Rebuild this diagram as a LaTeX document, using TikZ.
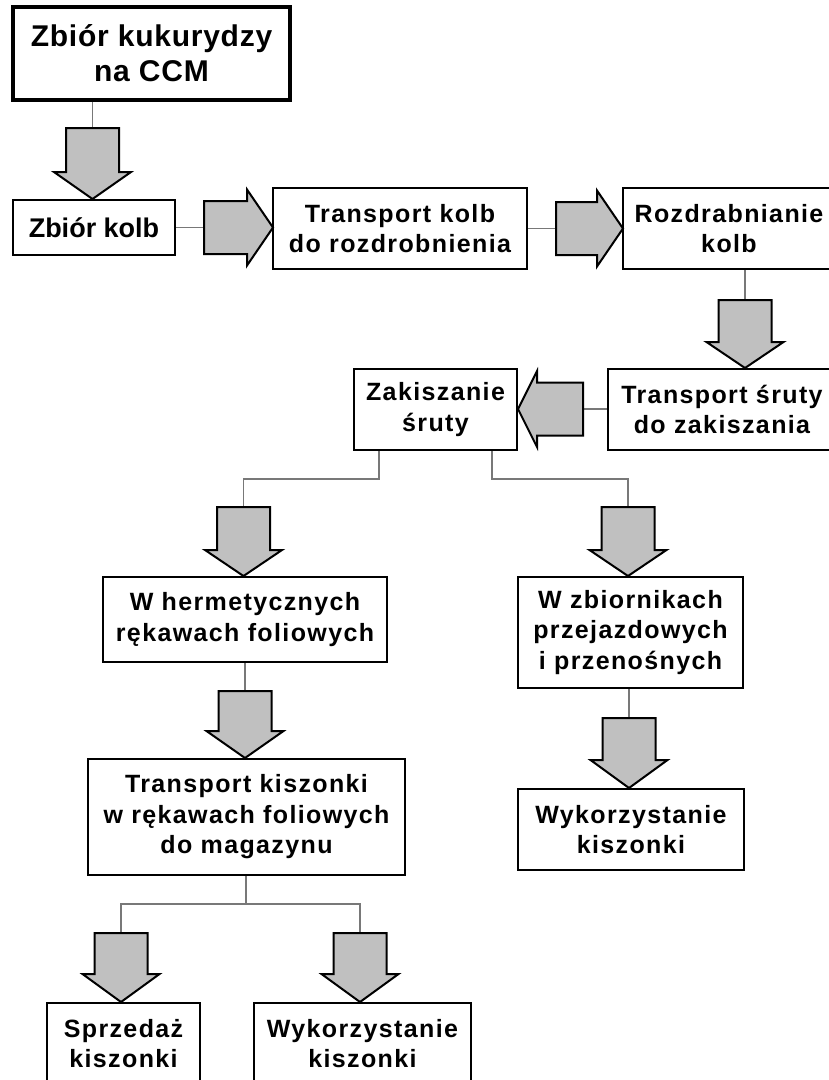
\documentclass[tikz,border=0pt]{standalone}
\usepackage{fontspec}
\newfontfamily\bxf{Liberation Sans}[LetterSpace=5.5]
\newfontfamily\bxtop{Liberation Sans}[LetterSpace=2.5]
\newfontfamily\bxplain{Liberation Sans}
\definecolor{arrowgray}{RGB}{192,192,192}
\definecolor{linkgray}{RGB}{120,120,120}
\newcommand\myarrD[4]{\draw[blockarrow] ({#1-26.5},#2) -- ({#1+26.5},#2) -- ({#1+26.5},#3) -- ({#1+38.5},#3) -- (#1,#4) -- ({#1-38.5},#3) -- ({#1-26.5},#3) -- cycle;}
\newcommand\myarrH[4]{\draw[blockarrow] (#2,{#1-26.5}) -- (#3,{#1-26.5}) -- (#3,{#1-38}) -- (#4,#1) -- (#3,{#1+38}) -- (#3,{#1+26.5}) -- (#2,{#1+26.5}) -- cycle;}
\tikzset{
  box/.style={draw=black, line width=2pt, fill=white, align=center, inner sep=0pt,
    font=\bxf\bfseries\fontsize{25}{30.5}\selectfont},
  bigbox/.style={box, font=\bxplain\bfseries\fontsize{27}{32}\selectfont},
  topbox/.style={box, line width=3.5pt, font=\bxtop\bfseries\fontsize{30}{35}\selectfont},
  link/.style={draw=linkgray, line width=1.5pt},
  blockarrow/.style={draw=black, line width=2pt, fill=arrowgray, line join=miter}
}
\begin{document}
\begin{tikzpicture}[x=1pt,y=-1pt]
\useasboundingbox (0,0) rectangle (829,1080);
\fill[white] (0,0) rectangle (829,1080);
\clip (0,0) rectangle (829,1080);

% boxes
\node[topbox, minimum width=277pt, minimum height=93pt] (b1) at (151.5,53.5) {Zbiór kukurydzy\\na CCM};
\node[bigbox, minimum width=162pt, minimum height=55pt] (b2) at (94,227.5) {Zbiór kolb};
\node[box, minimum width=254pt, minimum height=81pt] (b3) at (400,228.5) {Transport kolb\\do rozdrobnienia};
\node[box, minimum width=212pt, minimum height=81pt] (b4) at (729,228.5) {Rozdrabnianie\\kolb};
\node[box, minimum width=228pt, minimum height=81pt] (b5) at (722,409.5) {Transport śruty\\do zakiszania};
\node[box, minimum width=163pt, minimum height=81pt] (b6) at (435.5,409.5) {Zakiszanie\\śruty};
\node[box, minimum width=284pt, minimum height=85pt] (b7) at (245,619.5) {W hermetycznych\\rękawach foliowych};
\node[box, minimum width=225pt, minimum height=111pt] (b8) at (630.5,632.5) {W zbiornikach\\przejazdowych\\i przenośnych};
\node[box, minimum width=317pt, minimum height=116pt] (b9) at (246.5,817) {Transport kiszonki\\w rękawach foliowych\\do magazynu};
\node[box, minimum width=226pt, minimum height=81pt] (b10) at (631,829.5) {Wykorzystanie\\kiszonki};
\node[box, minimum width=153pt, minimum height=81pt] (b11) at (123.5,1043.5) {Sprzedaż\\kiszonki};
\node[box, minimum width=217pt, minimum height=81pt] (b12) at (362.5,1043.5) {Wykorzystanie\\kiszonki};

% arrow start points
\coordinate (a1) at (92.5,128);
\coordinate (a2) at (204,227.5);
\coordinate (a3) at (556,228.5);
\coordinate (a4) at (745,300);
\coordinate (a5) at (583,409);
\coordinate (a7) at (243.5,507);
\coordinate (a8) at (628,507);
\coordinate (a9) at (245,691);
\coordinate (a10) at (629,718);
\coordinate (a11) at (121,933);
\coordinate (a12) at (360,933);
\coordinate (s6l) at (379,479);
\coordinate (s6r) at (492,479);
\coordinate (s9) at (246,904);

% thin connectors
\draw[link] (b1.south -| a1) -- (a1);
\draw[link] (b2.east |- a2) -- (a2);
\draw[link] (b3.east |- a3) -- (a3);
\draw[link] (b4.south -| a4) -- (a4);
\draw[link] (b5.west |- a5) -- (a5);
\draw[link] (b6.south -| s6l) -- (s6l) -| (a7);
\draw[link] (b6.south -| s6r) -- (s6r) -| (a8);
\draw[link] (b7.south -| a9) -- (a9);
\draw[link] (b8.south -| a10) -- (a10);
\draw[link] (b9.south -| s9) -- (s9);
\draw[link] (s9) -| (a11);
\draw[link] (s9) -| (a12);

% block arrows
\myarrD{92.5}{128}{172}{199}
\myarrH{227.5}{204}{247}{273}
\myarrH{228.5}{556}{597}{623}
\myarrD{745}{300}{342}{368}
\myarrH{409}{583}{537}{518}
\myarrD{243.5}{507}{550}{576}
\myarrD{628}{507}{550}{576}
\myarrD{245}{691}{731}{758}
\myarrD{629}{718}{760}{788}
\myarrD{121}{933}{974}{1002}
\myarrD{360}{933}{974}{1002}
\end{tikzpicture}
\end{document}
